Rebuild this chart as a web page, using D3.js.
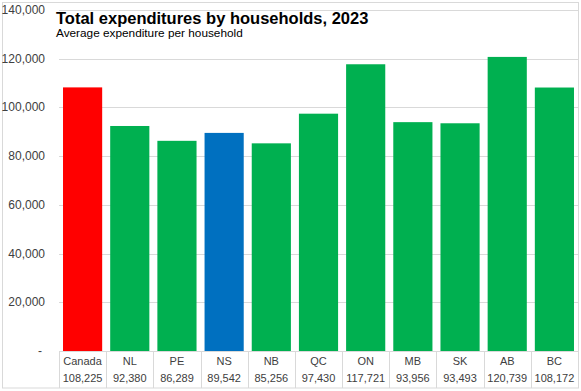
<!DOCTYPE html>
<html><head><meta charset="utf-8">
<script src="https://cdn.jsdelivr.net/npm/d3@7"></script>
<style>body{margin:0;background:#fff}svg{display:block;font-family:"Liberation Sans",Arial,sans-serif}</style>
</head><body><svg id="c" width="581" height="391"></svg>
<script>
const categories = ["Canada","NL","PE","NS","NB","QC","ON","MB","SK","AB","BC"];
const values = [108225,92380,86289,89542,85256,97430,117721,93956,93493,120739,108172];
const valueLabels = ["108,225","92,380","86,289","89,542","85,256","97,430","117,721","93,956","93,493","120,739","108,172"];
const yTicks = [0,20000,40000,60000,80000,100000,120000,140000];
const colors = {Canada:"#FF0000", NS:"#0070C0"};
const defaultColor = "#00B050";

const svg = d3.select("#c");
const L = 59, R = 578, T = 10, B = 351;
const x = d3.scaleBand().domain(categories).range([L,R]).paddingInner(0.17).paddingOuter(0.085);
const xb = d3.scaleBand().domain(categories).range([L,R]);
const y = d3.scaleLinear().domain([0,140000]).range([B,T]);

// outer border
svg.append("rect").attr("x",2.5).attr("y",2.5).attr("width",576).attr("height",385.5)
  .attr("fill","none").attr("stroke","#D9D9D9");

// gridlines
svg.append("g").selectAll("line").data(yTicks.filter(d=>d>0)).join("line")
  .attr("x1",L).attr("x2",R).attr("y1",d=>Math.round(y(d))+0.5).attr("y2",d=>Math.round(y(d))+0.5)
  .attr("stroke","#D9D9D9");

// y labels
svg.append("g").selectAll("text").data(yTicks).join("text")
  .attr("x",d=>d===0?42:45).attr("y",d=>y(d)+4)
  .attr("text-anchor","end").attr("font-size",12).attr("fill","#404040")
  .text(d=>d===0?"-":d3.format(",")(d));

// bars
svg.append("g").selectAll("rect").data(categories).join("rect")
  .attr("x",d=>x(d)).attr("width",x.bandwidth())
  .attr("y",(d,i)=>y(values[i])).attr("height",(d,i)=>B-y(values[i]))
  .attr("fill",d=>colors[d]||defaultColor);

// table-like x axis
svg.append("line").attr("x1",L).attr("x2",R).attr("y1",B+0.5).attr("y2",B+0.5).attr("stroke","#D9D9D9");
const seps = categories.map(d=>xb(d)).concat([R]);
svg.append("g").selectAll("line").data(seps).join("line")
  .attr("x1",d=>Math.round(d)+0.5).attr("x2",d=>Math.round(d)+0.5).attr("y1",B).attr("y2",388)
  .attr("stroke","#D9D9D9");
const xl = svg.append("g").selectAll("g").data(categories).join("g");
xl.append("text").attr("x",d=>xb(d)+xb.bandwidth()/2).attr("y",365)
  .attr("text-anchor","middle").attr("font-size",11).attr("fill","#404040").text(d=>d);
xl.append("text").attr("x",d=>xb(d)+xb.bandwidth()/2).attr("y",382)
  .attr("text-anchor","middle").attr("font-size",11).attr("fill","#404040").text((d,i)=>valueLabels[i]);

// titles
svg.append("text").attr("x",56).attr("y",24).attr("font-size",16.5).attr("font-weight","bold").attr("fill","#000")
  .text("Total expenditures by households, 2023");
svg.append("text").attr("x",56).attr("y",37).attr("font-size",11.8).attr("fill","#000")
  .text("Average expenditure per household");
</script></body></html>
